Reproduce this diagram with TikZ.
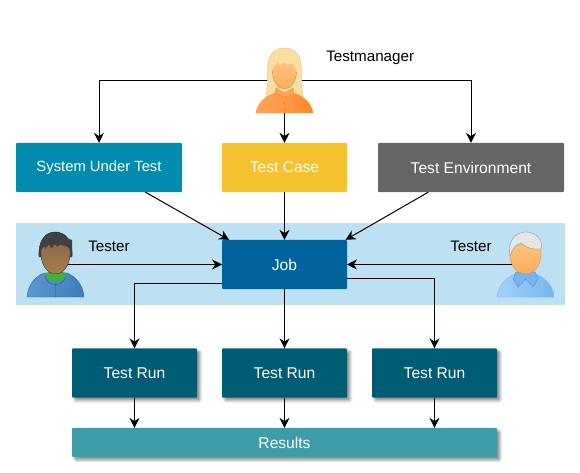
\documentclass[tikz,border=0pt]{standalone}
\usepackage{fontspec}
\setmainfont{Liberation Sans}
\usetikzlibrary{arrows.meta, positioning, calc, shadows.blur}

\definecolor{sutblue}{HTML}{008CAF}
\definecolor{caseyellow}{HTML}{F6C12E}
\definecolor{envgray}{HTML}{666666}
\definecolor{jobblue}{HTML}{00639C}
\definecolor{runteal}{HTML}{005C73}
\definecolor{resultteal}{HTML}{3D9CA8}
\definecolor{bandblue}{HTML}{BEE0F3}
\definecolor{hairblond}{HTML}{F8DFA0}
\definecolor{hairedge}{HTML}{EBC77C}
\definecolor{shirtorange}{HTML}{FF8A2E}
\definecolor{shirtlight}{HTML}{FFA45C}
\definecolor{skinlight}{HTML}{FFC47E}
\definecolor{skindark}{HTML}{FBAE5E}
\definecolor{hoodblue}{HTML}{3F7DBA}
\definecolor{hoodlight}{HTML}{5A97D2}
\definecolor{skinbrown}{HTML}{A87C52}
\definecolor{skinbrowntop}{HTML}{8F6A46}
\definecolor{shirtblue}{HTML}{76B4EE}
\definecolor{shirtbluelight}{HTML}{A3D2FA}

\tikzset{
  box/.style={rounded corners=0.8pt, inner sep=0pt, outer sep=0pt, text=white,
    font=\fontsize{11.7pt}{13pt}\selectfont, minimum height=37pt},
  shadowbox/.style={box, blur shadow={shadow xshift=2.2pt, shadow yshift=-2.2pt,
    shadow blur radius=2pt, shadow opacity=45}},
  person/.style={inner sep=0pt, outer sep=0pt, minimum width=42.75pt, minimum height=48.75pt},
  lbl/.style={anchor=west, inner sep=0pt, font=\fontsize{11.4pt}{13pt}\selectfont},
  link/.style={-{Stealth[length=7.5pt, width=7.5pt, inset=2.5pt]}, line width=0.75pt},
  plainline/.style={line width=0.3pt}
}

\newcommand{\drawwoman}{
  % hair
  \draw[fill=hairblond, draw=hairedge, plainline]
    (266,97) .. controls (268,85) and (267,72) .. (268,64)
    .. controls (269,53) and (276,48) .. (284.5,48)
    .. controls (293,48) and (300,53) .. (301,64)
    .. controls (302,72) and (301,85) .. (303,97) -- cycle;
  % body
  \draw[left color=shirtlight, right color=shirtorange, draw=shirtorange, plainline]
    (256,113) .. controls (258,102) and (266,96) .. (276,93) -- (293,93)
    .. controls (303,96) and (311,102) .. (313,113) -- cycle;
  \draw[fill=shirtlight, draw=shirtorange, plainline] (284.5,97) -- (275,94) -- (276,88) -- (284.5,93) -- (293,88) -- (294,94) -- cycle;
  \fill[shirtorange!80!red] (284.5,103) circle (0.8) (284.5,110) circle (0.8);
  % face
  \draw[top color=skinlight, bottom color=skindark, draw=skindark!80!black, plainline]
    (272.5,71) .. controls (272.5,64) and (277,60) .. (284.5,60)
    .. controls (292,60) and (296.5,64) .. (296.5,71)
    .. controls (296.5,81) and (291,89) .. (284.5,89)
    .. controls (278,89) and (272.5,81) .. (272.5,71) -- cycle;
  % fringe
  \fill[hairblond] (272,72) .. controls (272,64) and (275,60) .. (279,59)
    -- (293,59) .. controls (295,62) and (297,66) .. (297,72)
    .. controls (295,68) and (293,65) .. (291,63)
    -- (287,66) -- (285,62) -- (280,65) -- (278,62)
    .. controls (275,64) and (273,68) .. (272,72) -- cycle;
}

\newcommand{\drawtesterleft}{
  % body
  \draw[left color=hoodlight, right color=hoodblue, draw=hoodblue!80!black, plainline]
    (27,297) .. controls (28,286) and (34,277) .. (44,273) -- (67,273)
    .. controls (77,277) and (83,286) .. (84,297) -- cycle;
  \fill[green!60!black!75!white] (45,276) .. controls (50,283) and (62,283) .. (67,276) -- (64,272) -- (48,272) -- cycle;
  \draw[hoodblue!70!black, plainline] (55.5,283) -- (55.5,297) (45,277) .. controls (49,287) and (62,287) .. (66,277);
  % head
  \draw[fill=black!75, draw=black!85, plainline]
    (39,257) .. controls (38,241) and (45,232) .. (55,232)
    .. controls (66,232) and (73,241) .. (72,257) -- cycle;
  \draw[top color=skinbrowntop, bottom color=skinbrown, draw=black!80, plainline]
    (41,250) .. controls (41,242) and (70,242) .. (70,250)
    .. controls (71,264) and (64,274) .. (55.5,274)
    .. controls (47,274) and (40,264) .. (41,250) -- cycle;
  % fringe
  \fill[black!75] (40,252) -- (44,244) -- (45,249) -- (49,244) -- (51,248) -- (55,244) -- (57,247) -- (61,243)
    -- (63,246) -- (67,244) -- (72,254) -- (72,240) -- (60,236) -- (44,238) -- cycle;
}

\newcommand{\drawtesterright}{
  % body
  \draw[left color=shirtbluelight, right color=shirtblue, draw=shirtblue, plainline]
    (497,297) .. controls (498,287) and (504,279) .. (515,274) -- (536,274)
    .. controls (547,279) and (553,287) .. (554,297) -- cycle;
  \draw[fill=shirtblue, draw=shirtblue!80!black, plainline] (525.5,279) -- (518,287) -- (513,279) -- (516,272) -- (535,272) -- (538,279) -- (533,287) -- cycle;
  % face
  \draw[top color=skinlight, bottom color=skindark, draw=skindark!85!black, plainline]
    (510,252) .. controls (510,242) and (541,242) .. (541,252)
    .. controls (542,265) and (534,274) .. (525.5,274)
    .. controls (517,274) and (509,265) .. (510,252) -- cycle;
  % hair
  \draw[fill=black!10, draw=black!40, plainline]
    (510,256) .. controls (507,243) and (514,232) .. (526,232)
    .. controls (536,232) and (543,240) .. (541.5,249)
    .. controls (534,250) and (526,248) .. (521,243)
    .. controls (516,244) and (513,248) .. (510,256) -- cycle;
}

\begin{document}
\begin{tikzpicture}[x=0.75pt, y=-0.75pt]
\useasboundingbox (0,0) rectangle (580,473);

% Band behind the job row
\fill[bandblue] (16,223) rectangle (565,305);

% Upper row
\node[box, fill=sutblue, minimum width=124.5pt, font=\fontsize{11.1pt}{13pt}\selectfont] (sut) at (99,167.5) {System Under Test};
\node[box, fill=caseyellow, minimum width=93.75pt] (testcase) at (284.5,167.5) {Test Case};
\node[box, fill=envgray, minimum width=139.5pt] (testenv) at (471,167.5) {Test Environment};

% Job
\node[box, fill=jobblue, minimum width=93.75pt] (job) at (284.5,264.5) {Job};

% Runs and results
\node[shadowbox, fill=runteal, minimum width=93.75pt] (run1) at (134.5,373) {Test Run};
\node[shadowbox, fill=runteal, minimum width=93.75pt] (run2) at (284.5,373) {Test Run};
\node[shadowbox, fill=runteal, minimum width=93.75pt] (run3) at (434.5,373) {Test Run};
\node[shadowbox, fill=resultteal, minimum width=318.75pt, minimum height=22pt] (results) at (284.5,442.5) {Results};

% People
\node[person] (manager) at (284.5,80.5) {};
\node[person] (testerl) at (55.5,264.5) {};
\node[person] (testerr) at (525.5,264.5) {};
\node[lbl] (managerlbl) at (326,58) {Testmanager};
\node[lbl] (testerllbl) at (88,246.5) {Tester};
\node[lbl] (testerrlbl) at (450,246.5) {Tester};

% Connectors
\draw[link] (manager.center) -| (sut.north);
\draw[link] (manager.center) -| (testenv.north);
\draw[link] (manager.south) -- (testcase.north);
\draw[link] (sut.-28.6) -- (job.156.2);
\draw[link] (testcase.south) -- (job.north);
\draw[link] (testenv.-150.3) -- (job.22.7);
\draw[link] (testerl.center) -- (job.west);
\draw[link] (testerr.center) -- (job.east);
\draw[link] (job.197.3) -| (run1.north);
\draw[link] (job.south) -- (run2.north);
\draw[link] (job.-13.1) -| (run3.north);
\draw[link] (run1.south) -- (run1.south |- results.north);
\draw[link] (run2.south) -- (run2.south |- results.north);
\draw[link] (run3.south) -- (run3.south |- results.north);

% Figures go on top of the line ends
\drawwoman
\drawtesterleft
\drawtesterright

\end{tikzpicture}
\end{document}
